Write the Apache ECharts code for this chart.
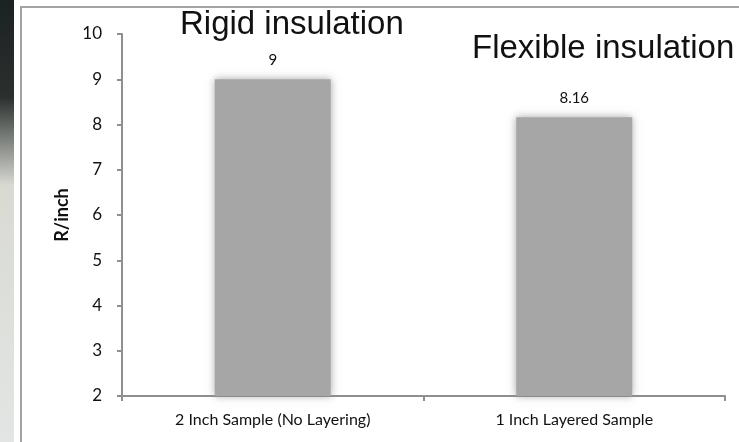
<!DOCTYPE html>
<html>
<head>
<meta charset="utf-8">
<script src="https://cdn.jsdelivr.net/npm/echarts@6/dist/echarts.min.js"></script>
<style>
  html, body { margin: 0; padding: 0; background: #fff; }
  #chart { width: 739px; height: 442px; }
</style>
</head>
<body>
<div id="chart"></div>
<script>
// data
var categories = ['2 Inch Sample (No Layering)', '1 Inch Layered Sample'];
var rPerInch = [9, 8.16];
var yTicks = [2, 3, 4, 5, 6, 7, 8, 9, 10];
var notes = ['Rigid insulation', 'Flexible insulation'];

var chart = echarts.init(document.getElementById('chart'), null, { renderer: 'canvas' });

var labelFont = 'Lato, "Open Sans", sans-serif';

var option = {
  animation: false,
  backgroundColor: '#fff',
  grid: {
    left: 122,
    right: 14,
    top: 34,
    bottom: 46
  },
  xAxis: {
    type: 'category',
    data: categories,
    axisLine: { lineStyle: { color: '#8f8f8f', width: 2 } },
    axisTick: { show: true, length: 5, alignWithLabel: false, lineStyle: { color: '#8f8f8f', width: 2 } },
    axisLabel: { color: '#111', fontSize: 16, fontFamily: labelFont, margin: 16 }
  },
  yAxis: {
    type: 'value',
    min: yTicks[0],
    max: yTicks[yTicks.length - 1],
    interval: 1,
    name: 'R/inch',
    nameLocation: 'middle',
    nameGap: 48,
    nameTextStyle: { color: '#111', fontSize: 18, fontWeight: 'bold', fontFamily: labelFont },
    splitLine: { show: false },
    axisLine: { show: true, lineStyle: { color: '#8f8f8f', width: 2 } },
    axisTick: { show: true, length: 5, lineStyle: { color: '#8f8f8f', width: 2 } },
    axisLabel: { color: '#111', fontSize: 17, fontFamily: labelFont, margin: 20 }
  },
  series: [
    {
      type: 'bar',
      data: rPerInch,
      barWidth: 116,
      itemStyle: {
        color: '#a6a6a6',
        shadowBlur: 8,
        shadowColor: 'rgba(130,130,130,0.7)'
      },
      label: {
        show: true,
        position: 'top',
        distance: 12,
        color: '#111',
        fontSize: 15,
        fontFamily: labelFont
      }
    }
  ],
  graphic: [
    {
      // dark photo edge on the left
      type: 'rect',
      shape: { x: 0, y: 0, width: 14, height: 442 },
      style: {
        fill: new echarts.graphic.LinearGradient(0, 0, 0.3, 1, [
          { offset: 0, color: '#1b2222' },
          { offset: 0.22, color: '#2a302e' },
          { offset: 0.42, color: '#d8dad2' },
          { offset: 1, color: '#e2e5e3' }
        ])
      },
      z: 10
    },
    {
      type: 'polyline',
      shape: { points: [[21, 442], [21, 7], [739, 7]] },
      style: { stroke: '#a3a3a3', lineWidth: 2, fill: null },
      z: 10
    },
    {
      type: 'text',
      left: 180,
      top: 8,
      style: { text: notes[0], fill: '#111', font: '33px "Liberation Sans", Arial, sans-serif' },
      z: 10
    },
    {
      type: 'text',
      left: 472,
      top: 32,
      style: { text: notes[1], fill: '#111', font: '33px "Liberation Sans", Arial, sans-serif' },
      z: 10
    }
  ]
};

chart.setOption(option);
</script>
</body>
</html>
